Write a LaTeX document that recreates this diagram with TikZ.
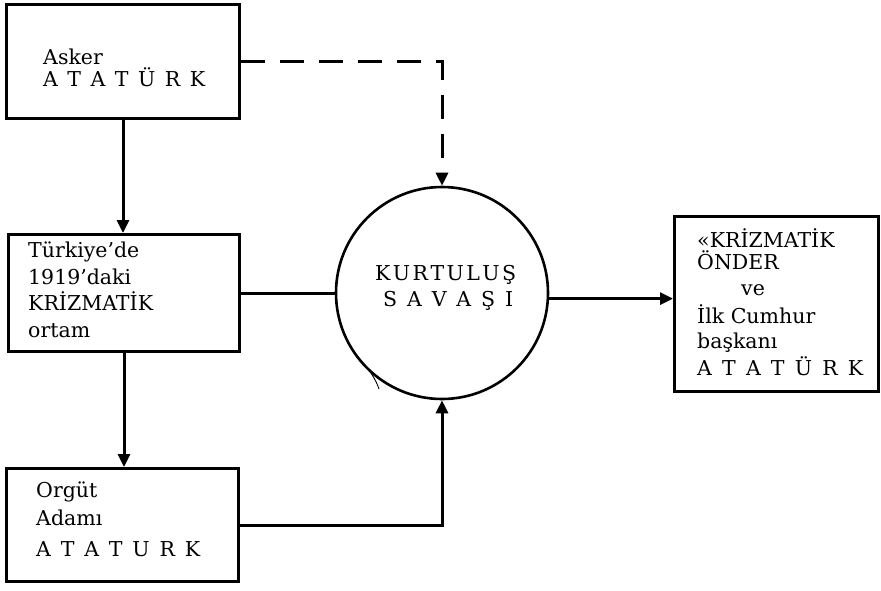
\documentclass[tikz,border=0pt]{standalone}
\usepackage{fontspec}
\setmainfont{DejaVu Serif}
\usetikzlibrary{arrows.meta,calc}
\begin{document}
\begin{tikzpicture}[x=1pt,y=-1pt,
 box/.style={draw,line width=3pt,inner sep=0pt,anchor=north west},
 lbl/.style={anchor=base west,inner sep=0pt,font=\fontsize{20.5}{24}\selectfont},
 conn/.style={line width=3pt},
 arr/.style={conn,-{Triangle[width=12pt,length=13pt]}}]
\useasboundingbox (0,0) rectangle (881,590);
% boxes
\node[box,minimum width=233pt,minimum height=114pt] (b1) at (5,3) {};
\node[box,minimum width=231pt,minimum height=117pt] (b2) at (7,233) {};
\node[box,minimum width=232pt,minimum height=113pt] (b3) at (5,467) {};
\node[box,minimum width=204pt,minimum height=175pt] (rb) at (673,215) {};
\node[draw,circle,line width=2.6pt,minimum size=212pt,inner sep=0pt] (c) at (442,293) {};
% texts
\node[lbl] (t1a) at (43,64) {Asker};
\node[lbl] (t1b) at (43,86) {\makebox[162pt][s]{A\hfil T\hfil A\hfil T\hfil Ü\hfil R\hfil K}};
\node[lbl] (t2a) at (28,257) {Türkiye'de};
\node[lbl] (t2b) at (28,284) {1919'daki};
\node[lbl] (t2c) at (28,310) {KRİZMATİK};
\node[lbl] (t2d) at (28,337) {ortam};
\node[lbl] (t3a) at (36,497) {Orgüt};
\node[lbl] (t3b) at (36,525) {Adamı};
\node[lbl] (t3c) at (36,556) {\makebox[164pt][s]{A\hfil T\hfil A\hfil T\hfil U\hfil R\hfil K}};
\node[lbl] (tca) at (375,280) {\makebox[141pt][s]{K\hfil U\hfil R\hfil T\hfil U\hfil L\hfil U\hfil Ş}};
\node[lbl] (tcb) at (383,306) {\makebox[130pt][s]{S\hfil A\hfil V\hfil A\hfil Ş\hfil I}};
\node[lbl] (tra) at (697,247) {«KRİZMATİK};
\node[lbl] (trb) at (697,269) {ÖNDER};
\node[lbl] (trc) at (741,295) {ve};
\node[lbl] (trd) at (697,323) {İlk Cumhur};
\node[lbl] (tre) at (697,348) {başkanı};
\node[lbl] (trf) at (697,375) {\makebox[166pt][s]{A\hfil T\hfil A\hfil T\hfil Ü\hfil R\hfil K}};
% connectors
\draw[arr] (b1.south) -- (b1.south |- b2.north);
\draw[arr] (b2.south) -- (b2.south |- b3.north);
\draw[arr,dash pattern=on 24pt off 15pt] (b1.east) -| (c.north);
\draw[conn] (b2.east) -- (b2.east -| c.west);
\draw[arr] (b3.east) -| (c.south);
\draw[arr] (c.-3) -- (c.-3 -| rb.west);
% stray pen mark
\draw[line width=0.9pt] (362,363) .. controls (370,370) and (376,380) .. (379,389);
\end{tikzpicture}
\end{document}
